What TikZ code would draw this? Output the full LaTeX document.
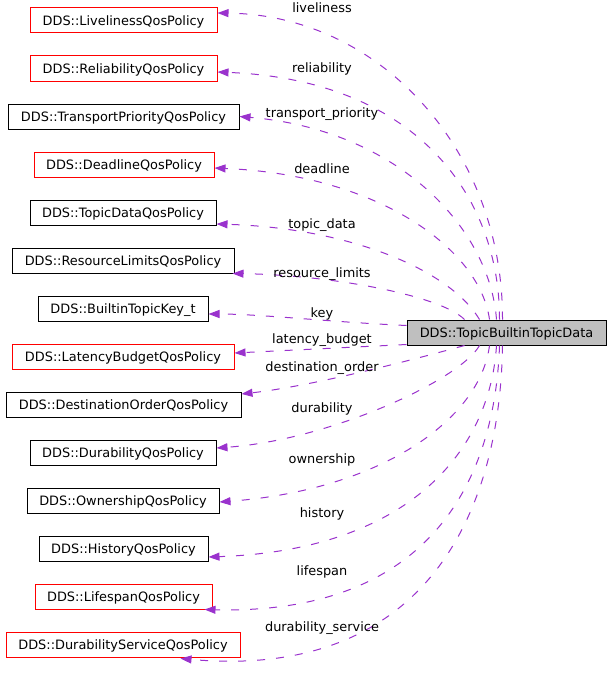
\documentclass[tikz,border=0pt]{standalone}
\usepackage{fontspec}
\setmainfont{DejaVu Sans}
\usetikzlibrary{arrows.meta,calc}
\definecolor{edgecol}{HTML}{9A32CD}
\definecolor{maingray}{HTML}{BFBFBF}
\begin{document}
\begin{tikzpicture}[x=1pt,y=-1pt,
  box/.style={draw,line width=1pt,minimum height=25pt,inner sep=0pt,
    text height=12pt,text depth=2pt,font=\fontsize{12.9}{15}\selectfont,anchor=center},
  redbox/.style={box,draw=red},
  blackbox/.style={box,draw=black},
  mainbox/.style={box,draw=black,fill=maingray},
  edge/.style={draw=edgecol,line width=1pt,dash pattern=on 8pt off 11pt,
    -{Triangle[length=11pt,width=8pt,fill=edgecol]}},
  lbl/.style={inner sep=0pt,anchor=base,font=\fontsize{12.9}{15}\selectfont}
]
\useasboundingbox (0,0) rectangle (611,677);

% nodes
\node[redbox,minimum width=187pt]   (live) at (123.5,20.5)  {DDS::LivelinessQosPolicy};
\node[redbox,minimum width=187pt]   (rel)  at (123.5,68.5)  {DDS::ReliabilityQosPolicy};
\node[blackbox,minimum width=231pt] (tp)   at (123.5,116.5) {DDS::TransportPriorityQosPolicy};
\node[redbox,minimum width=180pt]   (dl)   at (124,164.5)   {DDS::DeadlineQosPolicy};
\node[blackbox,minimum width=186pt] (td)   at (123,212.5)   {DDS::TopicDataQosPolicy};
\node[blackbox,minimum width=222pt] (rl)   at (123,260.5)   {DDS::ResourceLimitsQosPolicy};
\node[blackbox,minimum width=170pt] (key)  at (123,308.5)   {DDS::BuiltinTopicKey\_t};
\node[redbox,minimum width=222pt]   (lb)   at (123,356.5)   {DDS::LatencyBudgetQosPolicy};
\node[blackbox,minimum width=235pt] (dord) at (123.5,404.5) {DDS::DestinationOrderQosPolicy};
\node[blackbox,minimum width=186pt] (dur)  at (123,452.5)   {DDS::DurabilityQosPolicy};
\node[blackbox,minimum width=192pt] (own)  at (123,500.5)   {DDS::OwnershipQosPolicy};
\node[blackbox,minimum width=169pt] (hist) at (123.5,548.5) {DDS::HistoryQosPolicy};
\node[redbox,minimum width=177pt]   (life) at (123.5,596.5) {DDS::LifespanQosPolicy};
\node[redbox,minimum width=234pt]   (ds)   at (123,644.5)   {DDS::DurabilityServiceQosPolicy};
\node[mainbox,minimum width=199pt]  (main) at (506.5,332.5) {DDS::TopicBuiltinTopicData};

% edges
\draw[edge] ($(main.north west)+(96,0)$) .. controls (503,150) and (380,15) .. ($(live.east)+(0,-7.5)$);
\draw[edge] ($(main.north west)+(93,0)$) .. controls (500,200) and (420,80) .. ($(rel.east)+(0,3.5)$);
\draw[edge] ($(main.north west)+(90,0)$) .. controls (490,230) and (400,130) .. ($(tp.east)+(0,0)$);
\draw[edge] ($(main.north west)+(83,0)$) .. controls (480,250) and (380,175) .. ($(dl.east)+(0,3.5)$);
\draw[edge] ($(main.north west)+(73,0)$) .. controls (450,270) and (350,228) .. ($(td.east)+(0,11.5)$);
\draw[edge] ($(main.north west)+(58,0)$) .. controls (440,295) and (330,275) .. ($(rl.east)+(-2,13)$);
\draw[edge] ($(main.north west)+(0,6)$) .. controls (330,322) and (260,314) .. ($(key.east)+(0,5.5)$);
\draw[edge] ($(main.south west)+(0,-1)$) -- ($(lb.east)+(0,-3.5)$);
\draw[edge] ($(main.south west)+(58,0)$) .. controls (430,355) and (320,385) .. ($(dord.east)+(0,-10.5)$);
\draw[edge] ($(main.south west)+(73,0)$) .. controls (460,380) and (330,440) .. ($(dur.east)+(0,-4.5)$);
\draw[edge] ($(main.south west)+(83,0)$) .. controls (480,420) and (380,490) .. ($(own.east)+(0,1.5)$);
\draw[edge] ($(main.south west)+(90,0)$) .. controls (490,450) and (410,550) .. ($(hist.east)+(0,8.5)$);
\draw[edge] ($(main.south west)+(93,0)$) .. controls (495,480) and (430,615) .. ($(life.south east)+(-8,0)$);
\draw[edge] ($(main.south west)+(96,0)$) .. controls (500,520) and (420,680) .. ($(ds.south east)+(-60,1)$);

% labels
\node[lbl] (l1)  at (322,13)  {liveliness};
\node[lbl] (l2)  at (322,73)  {reliability};
\node[lbl] (l3)  at (322,117) {transport\_priority};
\node[lbl] (l4)  at (322,173) {deadline};
\node[lbl] (l5)  at (322,228) {topic\_data};
\node[lbl] (l6)  at (322,277) {resource\_limits};
\node[lbl] (l7)  at (322,317) {key};
\node[lbl] (l8)  at (322,343) {latency\_budget};
\node[lbl] (l9)  at (322,371) {destination\_order};
\node[lbl] (l10) at (322,412) {durability};
\node[lbl] (l11) at (322,463) {ownership};
\node[lbl] (l12) at (322,517) {history};
\node[lbl] (l13) at (322,575) {lifespan};
\node[lbl] (l14) at (322,631) {durability\_service};
\end{tikzpicture}
\end{document}
